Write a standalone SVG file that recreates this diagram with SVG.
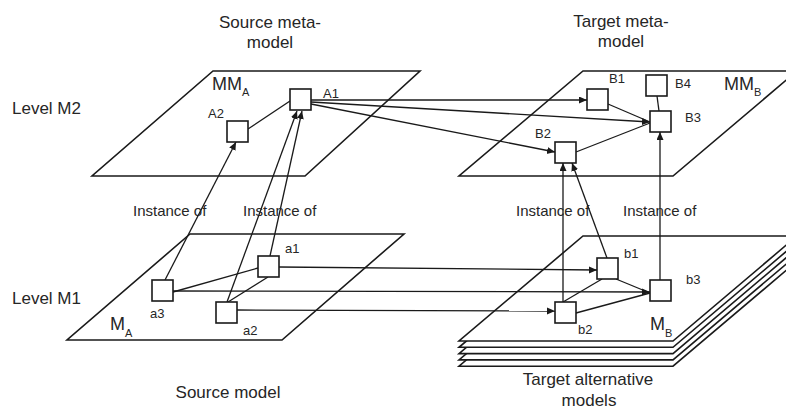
<svg xmlns="http://www.w3.org/2000/svg" width="786" height="410" viewBox="0 0 786 410">
<style>
.pl{fill:#fff;stroke:#1a1a1a;stroke-width:1.6;stroke-linejoin:miter}
.ln{fill:none;stroke:#1a1a1a;stroke-width:1.3}
.ar{marker-end:url(#ah)}
.nd{fill:#fff;stroke:#1a1a1a;stroke-width:1.6}
text{font-family:"Liberation Sans",Arial,sans-serif;fill:#262626}
.t{font-size:17px}
.i{font-size:15px}
.n{font-size:13px}
.m{font-size:18px}
.s{font-size:11px}
</style>
<defs>
<marker id="ah" markerUnits="userSpaceOnUse" markerWidth="9" markerHeight="8" refX="8" refY="3.5" orient="auto">
<path d="M0,0 L8,3.5 L0,7 z" fill="#1a1a1a"/>
</marker>
</defs>
<g id="planes">
<polygon class="pl" points="213,71 420,71 305,176 92,176"/>
<polygon class="pl" points="583,71 797,71 673,176 459,176"/>
<polygon class="pl" points="190,234 404,234 282,340 67,340"/>
<polygon class="pl" points="583,261.2 797,261.2 673,366.2 459,366.2"/>
<polygon class="pl" points="583,254.9 797,254.9 673,359.9 459,359.9"/>
<polygon class="pl" points="583,248.6 797,248.6 673,353.6 459,353.6"/>
<polygon class="pl" points="583,242.3 797,242.3 673,347.3 459,347.3"/>
<polygon class="pl" points="583,236 797,236 673,341 459,341"/>
</g>
<g id="connectors">
<line class="ln" x1="248" y1="129" x2="290" y2="101"/>
<line class="ln ar" x1="311" y1="100" x2="587" y2="100"/>
<line class="ln ar" x1="311" y1="102" x2="650" y2="122"/>
<line class="ln ar" x1="311" y1="104" x2="555" y2="152"/>
<line class="ln" x1="608" y1="104" x2="650" y2="122"/>
<line class="ln" x1="576" y1="152" x2="650" y2="123"/>
<line class="ln" x1="657" y1="96" x2="659" y2="111"/>
<line class="ln ar" x1="165" y1="280" x2="236" y2="142"/>
<line class="ln ar" x1="227" y1="302" x2="297" y2="111"/>
<line class="ln ar" x1="270" y1="256" x2="302" y2="111"/>
<line class="ln ar" x1="563" y1="302" x2="563" y2="163"/>
<line class="ln ar" x1="607" y1="258" x2="572" y2="163"/>
<line class="ln ar" x1="660" y1="280" x2="660" y2="132"/>
<line class="ln" x1="173" y1="292" x2="258" y2="268"/>
<line class="ln" x1="228" y1="302" x2="268" y2="277"/>
<line class="ln ar" x1="279" y1="267" x2="597" y2="270"/>
<line class="ln ar" x1="173" y1="291" x2="650" y2="292"/>
<line class="ln ar" x1="237" y1="310" x2="555" y2="311"/>
<line class="ln" x1="616" y1="279" x2="650" y2="293"/>
<line class="ln" x1="602" y1="279" x2="563" y2="302"/>
<line class="ln" x1="576" y1="313" x2="650" y2="293"/>
</g>
<g id="A1"><rect class="nd" x="290" y="89" width="21" height="21"/><text class="n" x="323" y="98">A1</text></g>
<g id="A2"><rect class="nd" x="227" y="121" width="21" height="21"/><text class="n" x="208" y="118">A2</text></g>
<g id="B1"><rect class="nd" x="587" y="89" width="21" height="21"/><text class="n" x="609" y="83">B1</text></g>
<g id="B4"><rect class="nd" x="646" y="75" width="21" height="21"/><text class="n" x="675" y="88">B4</text></g>
<g id="B3"><rect class="nd" x="650" y="111" width="21" height="21"/><text class="n" x="685" y="122">B3</text></g>
<g id="B2"><rect class="nd" x="555" y="142" width="21" height="21"/><text class="n" x="535" y="138">B2</text></g>
<g id="a1"><rect class="nd" x="258" y="256" width="21" height="21"/><text class="n" x="285" y="253">a1</text></g>
<g id="a3"><rect class="nd" x="152" y="280" width="21" height="21"/><text class="n" x="150" y="318">a3</text></g>
<g id="a2"><rect class="nd" x="216" y="302" width="21" height="21"/><text class="n" x="243" y="335">a2</text></g>
<g id="b1"><rect class="nd" x="597" y="258" width="21" height="21"/><text class="n" x="624" y="258">b1</text></g>
<g id="b3"><rect class="nd" x="650" y="280" width="21" height="21"/><text class="n" x="686" y="284">b3</text></g>
<g id="b2"><rect class="nd" x="555" y="302" width="21" height="21"/><text class="n" x="578" y="334">b2</text></g>
<g id="labels">
<text class="t" x="270" y="28" text-anchor="middle">Source meta-</text>
<text class="t" x="270" y="48" text-anchor="middle">model</text>
<text class="t" x="621" y="27" text-anchor="middle">Target meta-</text>
<text class="t" x="621" y="47" text-anchor="middle">model</text>
<text class="t" x="12" y="114">Level M2</text>
<text class="t" x="12" y="304">Level M1</text>
<text class="i" x="133" y="216">Instance of</text>
<text class="i" x="243" y="216">Instance of</text>
<text class="i" x="516" y="216">Instance of</text>
<text class="i" x="623" y="216">Instance of</text>
<text class="m" x="212" y="90">MM<tspan class="s" dy="6">A</tspan></text>
<text class="m" x="724" y="90">MM<tspan class="s" dy="6">B</tspan></text>
<text class="m" x="110" y="330">M<tspan class="s" dy="7">A</tspan></text>
<text class="m" x="650" y="330">M<tspan class="s" dy="7">B</tspan></text>
<text class="t" x="228" y="398" text-anchor="middle">Source model</text>
<text class="t" x="588" y="385" text-anchor="middle">Target alternative</text>
<text class="t" x="589" y="406" text-anchor="middle">models</text>
</g>
</svg>
